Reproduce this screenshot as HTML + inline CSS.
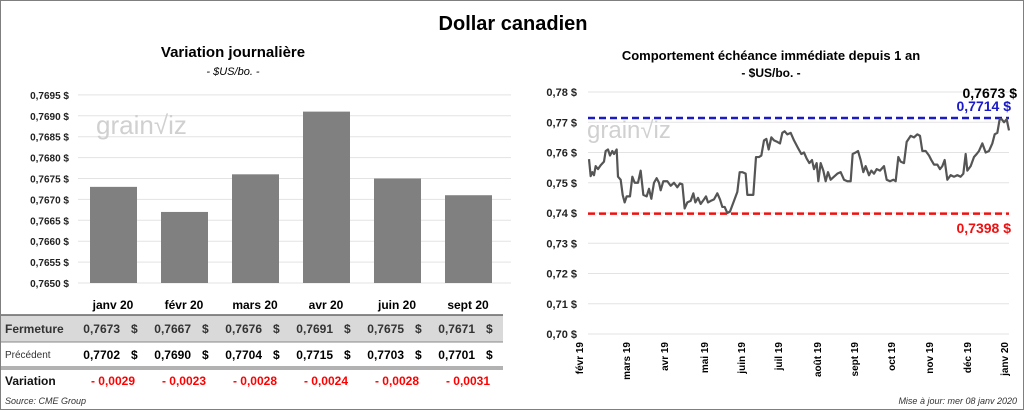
<!DOCTYPE html>
<html><head><meta charset="utf-8"><style>
body{margin:0;background:#fff;font-family:"Liberation Sans",sans-serif}
#wrap{position:relative;width:1022px;height:408px;border:1px solid #7f7f7f;overflow:hidden}
.t{position:absolute;white-space:nowrap}
</style></head><body>
<div id="wrap">
<div class="t" style="left:0;width:1024px;text-align:center;top:12px;font-size:20px;font-weight:bold">Dollar canadien</div>
<div class="t" style="left:82px;width:300px;text-align:center;top:43px;font-size:15px;font-weight:bold">Variation  journalière</div>
<div class="t" style="left:82px;width:300px;text-align:center;top:65px;font-size:11px;font-style:italic">- $US/bo. -</div>
<div class="t" style="left:560px;width:420px;text-align:center;top:47px;font-size:13px;font-weight:bold">Comportement échéance immédiate depuis 1 an</div>
<div class="t" style="left:560px;width:420px;text-align:center;top:65px;font-size:12px;font-weight:bold">- $US/bo. -</div>
<svg id="svg" width="1024" height="410" style="position:absolute;left:0;top:0"></svg>
<div class="t" style="left:4px;top:395px;font-size:9px;font-style:italic;color:#333">Source: CME Group</div>
<div class="t" style="right:6px;top:395px;font-size:9px;font-style:italic;color:#333">Mise à jour: mer 08 janv 2020</div>
</div>
<script>
const barCats=["janv 20","févr 20","mars 20","avr 20","juin 20","sept 20"];
const closeVals=[0.7673,0.7667,0.7676,0.7691,0.7675,0.7671];
const prevVals=[0.7702,0.7690,0.7704,0.7715,0.7703,0.7701];
const varVals=[-0.0029,-0.0023,-0.0028,-0.0024,-0.0028,-0.0031];
const barTicks=[0.7650,0.7655,0.7660,0.7665,0.7670,0.7675,0.7680,0.7685,0.7690,0.7695];
const lineT=[0,5,10,15,20,27,35,45,50,57,63,70,75,83,87,95,101,107,113,123,130,137,147,155,163,173,180,187,195,203,210,215,223,235,245,255,265,273,280,287,295,305,313,319,327,335,345,351,357,365,375,385,393,400,407,415,423,435,445,452,460,470,475,483,493,501,510,517,525,532,539,547,555,565,573,580,587,595,605,615,627,637,645,653,661,669,675,683,688,695,703,710,717,725,735,745,755,765,775,785,791,800,807,815,823,830,840,847,855,863,873,885,893,903,913,920,928,935,945,953,965,975,985,993,1000,1010,1020,1027,1035,1045,1053,1060,1067,1075,1085,1095,1105,1115,1123,1130,1135,1145,1155,1163,1170,1180,1190,1200,1210,1217,1225,1232,1238,1245,1253,1260];
const lineVals=[0.7578,0.7522,0.7535,0.7525,0.7555,0.7545,0.7558,0.757,0.7605,0.761,0.759,0.7605,0.7595,0.761,0.752,0.751,0.746,0.7435,0.7455,0.7455,0.752,0.750,0.750,0.754,0.746,0.7455,0.748,0.7447,0.750,0.7515,0.750,0.7475,0.7505,0.7505,0.749,0.750,0.7485,0.7498,0.7495,0.7415,0.7435,0.744,0.7465,0.7435,0.745,0.743,0.7445,0.7455,0.7435,0.744,0.7445,0.7465,0.7445,0.742,0.742,0.740,0.7405,0.744,0.747,0.7535,0.7535,0.753,0.746,0.746,0.746,0.7585,0.7585,0.759,0.764,0.7645,0.761,0.765,0.764,0.7635,0.763,0.7665,0.767,0.766,0.7665,0.764,0.7615,0.7595,0.760,0.758,0.7565,0.7575,0.7545,0.7565,0.7505,0.7565,0.754,0.7505,0.7535,0.751,0.752,0.753,0.7535,0.751,0.7505,0.7505,0.7595,0.760,0.7605,0.7575,0.7535,0.7555,0.7525,0.754,0.753,0.7545,0.754,0.7555,0.751,0.7505,0.751,0.7505,0.7585,0.757,0.7565,0.7635,0.7655,0.765,0.766,0.7655,0.7605,0.7605,0.759,0.7575,0.756,0.756,0.7545,0.7555,0.7575,0.751,0.7525,0.752,0.7525,0.752,0.753,0.7595,0.754,0.7555,0.7585,0.7595,0.7605,0.763,0.760,0.7605,0.763,0.766,0.7665,0.771,0.771,0.770,0.771,0.7673];
const lineTicks=[0.70,0.71,0.72,0.73,0.74,0.75,0.76,0.77,0.78];
const monthLabels=["févr 19","mars 19","avr 19","mai 19","juin 19","juil 19","août 19","sept 19","oct 19","nov 19","déc 19","janv 20"];
const monthT=[-30,111,225,345,456,567,684,795,906,1020,1134,1245];
const maxLine=0.7714, minLine=0.7398, lastVal=0.7673;

const svg=document.getElementById('svg');const NS='http://www.w3.org/2000/svg';
function mk(tag,attrs,name,text){const e=document.createElementNS(NS,tag);for(const k in attrs)e.setAttribute(k,attrs[k]);


if(text!==undefined)e.textContent=text;svg.appendChild(e);return e;}
const fmt=(v,d)=>v.toFixed(d).replace('.',',');
// Left bar chart
const by=v=>282-(v-0.7650)/0.0005*20.9;
const bx=i=>89+i*71;
barTicks.forEach(t=>{mk('line',{x1:77,x2:510,y1:by(t),y2:by(t),stroke:'#e3e3e3','stroke-width':1},'bar-gridline');
mk('text',{x:68,y:by(t)+4,'text-anchor':'end','font-size':10,'font-weight':'bold',fill:'#222'},'bar-y-tick',fmt(t,4)+' $');});
mk('text',{x:95,y:133,'font-size':26,fill:'#d0d0d0'},'watermark','grain\u221Aiz');
closeVals.forEach((v,i)=>{mk('rect',{x:bx(i),y:by(v),width:47,height:282-by(v),fill:'#808080'},'bar-'+barCats[i].replace(' ','-'));});
// table
mk('rect',{x:0,y:314,width:502,height:27,fill:'#d9d9d9'},'fermeture-row-bg');
mk('line',{x1:0,x2:502,y1:314,y2:314,stroke:'#666','stroke-width':1.5},'table-line');
mk('line',{x1:0,x2:502,y1:341,y2:341,stroke:'#888','stroke-width':1},'table-line');
mk('line',{x1:0,x2:502,y1:366,y2:366,stroke:'#666','stroke-width':1},'table-line');
mk('line',{x1:0,x2:502,y1:368,y2:368,stroke:'#666','stroke-width':1},'table-line');
mk('text',{x:4,y:332,'font-size':12,'font-weight':'bold',fill:'#333'},'row-label','Fermeture');
mk('text',{x:4,y:357,'font-size':10,fill:'#333'},'row-label','Précédent');
mk('text',{x:4,y:384,'font-size':12,'font-weight':'bold',fill:'#111'},'row-label','Variation');
barCats.forEach((c,i)=>{const cx=bx(i)+23;
mk('text',{x:cx,y:308,'text-anchor':'middle','font-size':12,'font-weight':'bold'},'bar-x-label',c);
mk('text',{x:cx+7,y:332,'text-anchor':'end','font-size':12,'font-weight':'bold',fill:'#333'},'fermeture-value',fmt(closeVals[i],4));
mk('text',{x:cx+18,y:332,'font-size':12,'font-weight':'bold',fill:'#333'},'fermeture-dollar','$');
mk('text',{x:cx+7,y:358,'text-anchor':'end','font-size':12,'font-weight':'bold'},'precedent-value',fmt(prevVals[i],4));
mk('text',{x:cx+18,y:358,'font-size':12,'font-weight':'bold'},'precedent-dollar','$');
mk('text',{x:cx,y:384,'text-anchor':'middle','font-size':12,'font-weight':'bold',fill:'#f00'},'variation-value','- '+fmt(Math.abs(varVals[i]),4));});
// Right line chart
const ly=v=>91+(0.78-v)/0.01*30.25;
const lx=t=>588+t/1260*420;
lineTicks.forEach(t=>{mk('line',{x1:587,x2:1008,y1:ly(t),y2:ly(t),stroke:'#e3e3e3','stroke-width':1},'line-gridline');
mk('text',{x:576,y:ly(t)+4,'text-anchor':'end','font-size':11,'font-weight':'bold',fill:'#222'},'line-y-tick',fmt(t,2)+' $');});
mk('text',{x:586,y:137,'font-size':24,fill:'#d0d0d0'},'watermark','grain\u221Aiz');
monthLabels.forEach((m,i)=>{const x=lx(monthT[i]);
mk('text',{x:0,y:0,transform:`translate(${x+4},341) rotate(-90)`,'text-anchor':'end','font-size':10,'font-weight':'bold'},'line-x-tick',m);});
mk('line',{x1:587,x2:1008,y1:ly(maxLine),y2:ly(maxLine),stroke:'#1a1ac8','stroke-width':2.5,'stroke-dasharray':'7,4'},'max-line');
mk('line',{x1:587,x2:1008,y1:ly(minLine),y2:ly(minLine),stroke:'#f01010','stroke-width':2.5,'stroke-dasharray':'7,4'},'min-line');
mk('polyline',{points:lineT.map((d,i)=>lx(d)+','+ly(lineVals[i])).join(' '),fill:'none',stroke:'#555','stroke-width':2.2,'stroke-linejoin':'round'},'price-line');
mk('text',{x:1016,y:97,'text-anchor':'end','font-size':14,'font-weight':'bold'},'last-value-label',fmt(lastVal,4)+' $');
mk('text',{x:1010,y:110,'text-anchor':'end','font-size':14,'font-weight':'bold',fill:'#1a1ac8'},'max-value-label',fmt(maxLine,4)+' $');
mk('text',{x:1010,y:232,'text-anchor':'end','font-size':14,'font-weight':'bold',fill:'#f01010'},'min-value-label',fmt(minLine,4)+' $');
</script>
</body></html>
